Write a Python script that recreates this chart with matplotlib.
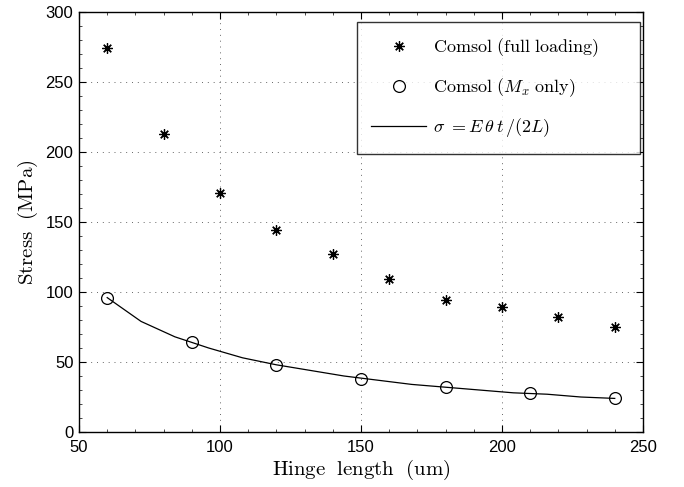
import numpy as np
import matplotlib.pyplot as plt
from matplotlib.ticker import AutoMinorLocator

plt.rcParams['mathtext.fontset'] = 'cm'
plt.rcParams['font.family'] = ['Liberation Sans', 'DejaVu Sans']

# data
full_x = [60, 80, 100, 120, 140, 160, 180, 200, 220, 240]
full_y = [274, 213, 171, 144, 127, 109, 94, 89, 82, 75]
mx_x = [60, 90, 120, 150, 180, 210, 240]
mx_y = [96, 64, 48, 38, 32, 28, 24]
theory_x = [60, 72, 84, 96, 108, 120, 132, 144, 156, 168, 180, 192, 204, 216, 228, 240]
theory_y = [96, 79, 68, 60, 53, 48, 44, 40, 37, 34, 32, 30, 28, 27, 25, 24]

fig = plt.figure(figsize=(6.84, 4.87), dpi=100, facecolor='w')
ax = fig.add_axes([0.1155, 0.1129, 0.8245, 0.8625])

ax.plot(full_x, full_y, linestyle='none', marker=(8, 2, 0), markersize=7.5,
        color='k', markeredgewidth=0.9, label=r'$\mathrm{Comsol\ (full\ loading)}$')
ax.plot(mx_x, mx_y, linestyle='none', marker='o', markersize=8.5,
        markerfacecolor='none', markeredgecolor='k', markeredgewidth=0.9,
        label=r'$\mathrm{Comsol\ (}M_x\mathrm{\ only)}$')
ax.plot(theory_x, theory_y, color='k', linewidth=0.9,
        label=r'$\sigma\ =E\,\theta\, t\,/(2L)$')

ax.set_xlim(50, 250)
ax.set_ylim(0, 300)
ax.set_xticks(np.arange(50, 251, 50))
ax.set_yticks(np.arange(0, 301, 50))
ax.xaxis.set_minor_locator(AutoMinorLocator(5))
ax.yaxis.set_minor_locator(AutoMinorLocator(5))
ax.tick_params(which='both', direction='in', top=True, right=True, labelsize=12)
ax.tick_params(axis='x', pad=6)
ax.tick_params(axis='y', pad=4)
ax.tick_params(which='major', length=5, width=0.8)
ax.tick_params(which='minor', length=2.5, width=0.5)
ax.grid(True, which='major', linestyle=(0, (1, 5)), color='#666666', linewidth=0.7)
for s in ax.spines.values():
    s.set_linewidth(1.0)

ax.set_xlabel(r'$\mathrm{Hinge\ \ length\ \ (um)}$', fontsize=15, labelpad=2)
ax.set_ylabel(r'$\mathrm{Stress\ \ (MPa)}$', fontsize=15, labelpad=4)

leg = ax.legend(loc='upper right', bbox_to_anchor=(0.493, 0.669, 0.502, 0.307),
                mode='expand', fontsize=13, frameon=True, fancybox=False,
                edgecolor='k', labelspacing=0.95, handlelength=3.0, handletextpad=0.4,
                borderpad=0.8, borderaxespad=0.0)
leg.get_frame().set_linewidth(1.0)

plt.savefig('out.png', dpi=100)
